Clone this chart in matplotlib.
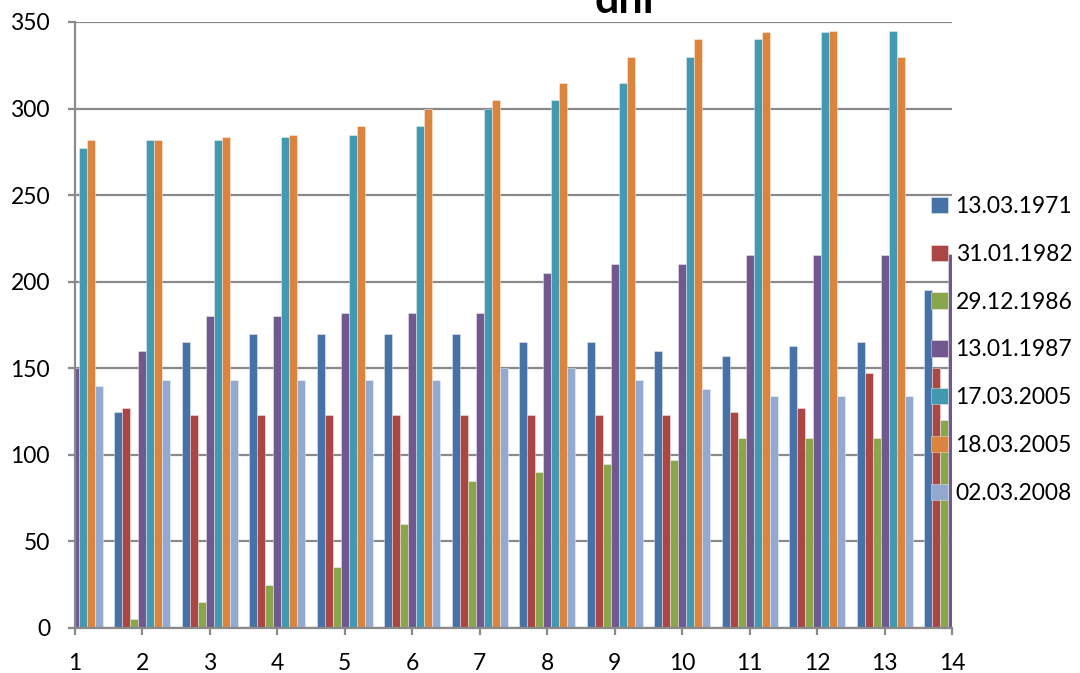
import matplotlib
matplotlib.use("Agg")
import matplotlib.pyplot as plt
import numpy as np

# categories on the x axis
days = list(range(1, 15))

labels = ['13.03.1971', '31.01.1982', '29.12.1986', '13.01.1987',
          '17.03.2005', '18.03.2005', '02.03.2008']

# values per series (first and last groups are partly cut off by the axis)
s1971 = [125, 125, 165, 170, 170, 170, 170, 165, 165, 160, 157, 163, 165, 195]
s1982 = [127, 127, 123, 123, 123, 123, 123, 123, 123, 123, 125, 127, 147, 150]
s1986 = [5, 5, 15, 25, 35, 60, 85, 90, 95, 97, 110, 110, 110, 120]
s1987 = [150, 160, 180, 180, 182, 182, 182, 205, 210, 210, 215.5, 215.5, 215.5, 216]
s2005a = [277, 282, 282, 283.5, 285, 290, 300, 305, 315, 330, 340, 344, 345, 345]
s2005b = [282, 282, 283.5, 285, 290, 300, 305, 315, 330, 340, 344, 345, 330, 330]
s2008 = [140, 143, 143, 143, 143, 143, 150, 150, 143, 138, 134, 134, 134, 134]

series = [s1971, s1982, s1986, s1987, s2005a, s2005b, s2008]
colors = ['#4672A8', '#AA4744', '#8AA64D', '#71598F', '#4399B1', '#DB843E', '#93A9D0']

plt.rcParams['font.family'] = ['Lato', 'DejaVu Sans']

fig = plt.figure(figsize=(10.8, 6.73), dpi=100)
ax = fig.add_axes([75/1080, 45/673, (952-75)/1080, (628-22)/673])

x = np.array(days)
w = 0.1185
for i, (vals, lab, c) in enumerate(zip(series, labels, colors)):
    ax.bar(x + (i - 3) * w, vals, width=w, color=c, label=lab,
           edgecolor=(1, 1, 1, 0.45), linewidth=0.6, zorder=3)

ax.set_xlim(1, 14)
ax.set_ylim(0, 350)
ax.set_xticks(days)
ax.set_yticks(range(0, 351, 50))

grid_c = '#8A8A8A'
ax.yaxis.grid(True, color=grid_c, linewidth=1.6, zorder=0)
for side in ['top', 'right']:
    ax.spines[side].set_visible(False)
for side in ['left', 'bottom']:
    ax.spines[side].set_color(grid_c)
    ax.spines[side].set_linewidth(1.6)
    ax.spines[side].set_zorder(4)
ax.tick_params(axis='both', colors=grid_c, labelcolor='black', labelsize=16.5,
               width=1.6, length=5)
ax.tick_params(axis='y', pad=13)
ax.tick_params(axis='x', pad=13)

# title sits partly above the figure edge, as in the original
fig.text(624/1080, 1 - 13/673, 'dni', ha='center', va='baseline',
         fontsize=31, fontweight='bold')

fig.legend(loc='upper left', bbox_to_anchor=(931/1080, 1 - 196/673),
           frameon=False, fontsize=16.5, handlelength=0.72, handleheight=0.72,
           handletextpad=0.35, labelspacing=1.17, borderpad=0, borderaxespad=0)

fig.savefig('out.png', dpi=100)
